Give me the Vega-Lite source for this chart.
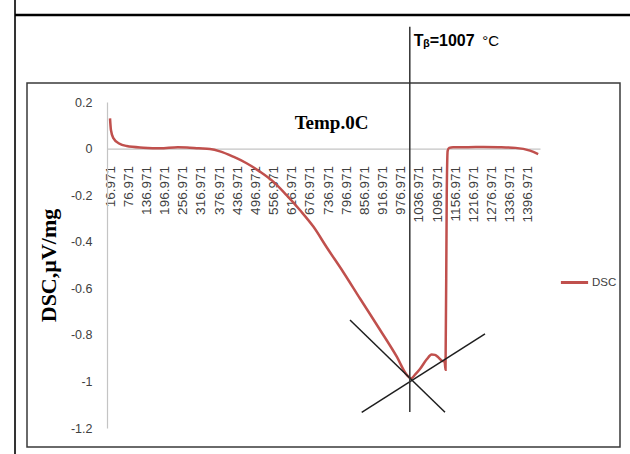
{
  "$schema": "https://vega.github.io/schema/vega-lite/v6.json",
  "width": 433,
  "height": 326,
  "autosize": "none",
  "padding": {"left": 107, "top": 102, "right": 90, "bottom": 26},
  "background": "white",
  "config": {"view": {"stroke": null}},
  "datasets": {
    "dsc": [
      {"T": 16.971, "v": 0.13}, {"T": 20, "v": 0.08}, {"T": 28, "v": 0.045}, {"T": 47, "v": 0.022},
      {"T": 72, "v": 0.011}, {"T": 127, "v": 0.004}, {"T": 182, "v": 0.001}, {"T": 241, "v": 0.006},
      {"T": 271, "v": 0.005}, {"T": 310, "v": 0.001}, {"T": 347, "v": -0.002}, {"T": 380, "v": -0.012},
      {"T": 424, "v": -0.035}, {"T": 468, "v": -0.063}, {"T": 512, "v": -0.099}, {"T": 556, "v": -0.142},
      {"T": 600, "v": -0.2}, {"T": 644, "v": -0.264}, {"T": 689, "v": -0.336}, {"T": 733, "v": -0.425},
      {"T": 787, "v": -0.53}, {"T": 843, "v": -0.645}, {"T": 909, "v": -0.779}, {"T": 964, "v": -0.894},
      {"T": 997, "v": -0.972}, {"T": 1011, "v": -0.987}, {"T": 1025, "v": -0.97}, {"T": 1040, "v": -0.948},
      {"T": 1063, "v": -0.905}, {"T": 1079, "v": -0.884}, {"T": 1090, "v": -0.886}, {"T": 1100, "v": -0.895},
      {"T": 1112, "v": -0.91}, {"T": 1122, "v": -0.915}, {"T": 1125, "v": -0.95}, {"T": 1129, "v": -0.2},
      {"T": 1132, "v": -0.01}, {"T": 1137, "v": 0.003}, {"T": 1150, "v": 0.006}, {"T": 1200, "v": 0.006},
      {"T": 1250, "v": 0.007}, {"T": 1300, "v": 0.006}, {"T": 1356, "v": 0.003}, {"T": 1404, "v": -0.009},
      {"T": 1431, "v": -0.024}
    ],
    "tangents": [
      {"line": "a", "T": 809.5, "v": -0.736}, {"line": "a", "T": 1123.3, "v": -1.1326},
      {"line": "b", "T": 848.2, "v": -1.1326}, {"line": "b", "T": 1255.4, "v": -0.796}
    ],
    "marker": [{"T": 1007, "v": 0.523, "v2": -1.131}],
    "labels": [
      {"T": 1020, "v": 0.462, "text": "Tᵦ=1007"}
    ],
    "unit": [{"T": 1246, "v": 0.462, "text": "°C"}],
    "box": [{"T": -257.2, "T2": 1701.2, "v": 0.2816, "v2": -1.2816}],
    "outerV": [{"T": -296.8, "v": 0.65, "v2": -1.32}],
    "outerH": [{"T": -296.8, "T2": 1740, "v": 0.5736}]
  },
  "encoding": {
    "x": {
      "field": "T", "type": "quantitative",
      "scale": {"domain": [7, 1437], "nice": false, "zero": false},
      "axis": {
        "values": [16.971, 76.971, 136.971, 196.971, 256.971, 316.971, 376.971, 436.971, 496.971, 556.971, 616.971, 676.971, 736.971, 796.971, 856.971, 916.971, 976.971, 1036.971, 1096.971, 1156.971, 1216.971, 1276.971, 1336.971, 1396.971],
        "format": ".3f",
        "labelAngle": -90, "labelAlign": "right", "labelBaseline": "middle",
        "labelPadding": 17, "ticks": false, "tickSize": 0,
        "labelFlush": false, "labelOverlap": false,
        "domainColor": "#c4c4c4", "domainWidth": 1.2,
        "labelFont": "Liberation Sans", "labelFontSize": 13.5, "labelColor": "#404040",
        "grid": false, "offset": -279.43,
        "title": "Temp.0C", "titleFont": "Liberation Serif", "titleFontSize": 19, "titleFontWeight": "bold",
        "titleColor": "#000000", "titleX": 224, "titleY": -26, "titleAlign": "center", "titleBaseline": "middle"
      }
    },
    "y": {
      "field": "v", "type": "quantitative",
      "scale": {"domain": [-1.2, 0.2], "nice": false, "zero": false},
      "axis": {
        "values": [0.2, 0, -0.2, -0.4, -0.6, -0.8, -1, -1.2],
        "labelExpr": "'' + datum.value",
        "ticks": false, "tickSize": 0, "labelPadding": 15,
        "domainColor": "#c4c4c4", "domainWidth": 1.2,
        "labelFont": "Liberation Sans", "labelFontSize": 12.5, "labelColor": "#404040",
        "grid": false,
        "title": "DSC,µV/mg", "titleFont": "Liberation Serif", "titleFontSize": 22, "titleFontWeight": "bold",
        "titleColor": "#000000", "titleX": -59, "titleY": 163, "titleAngle": -90, "titleAlign": "center", "titleBaseline": "middle"
      }
    }
  },
  "layer": [
    {
      "data": {"name": "box"},
      "mark": {"type": "rect", "fill": null, "stroke": "#3a3a3a", "strokeWidth": 1.5, "clip": false},
      "encoding": {"x2": {"field": "T2"}, "y2": {"field": "v2"}}
    },
    {
      "data": {"name": "outerV"},
      "mark": {"type": "rule", "color": "#333333", "strokeWidth": 2, "clip": false},
      "encoding": {"y2": {"field": "v2"}}
    },
    {
      "data": {"name": "outerH"},
      "mark": {"type": "rule", "color": "#000000", "strokeWidth": 2.5, "clip": false},
      "encoding": {"x2": {"field": "T2"}}
    },
    {
      "data": {"name": "dsc"},
      "mark": {"type": "line", "strokeWidth": 2.5, "interpolate": "monotone", "clip": false},
      "encoding": {
        "color": {
          "datum": "DSC",
          "scale": {"range": ["#C0504D"]},
          "legend": {
            "orient": "none", "legendX": 452, "legendY": 165, "title": null,
            "symbolType": "stroke", "symbolSize": 740, "symbolStrokeWidth": 3,
            "labelFont": "Liberation Sans", "labelFontSize": 11.5, "labelColor": "#404040",
            "labelOffset": 2, "padding": 0
          }
        }
      }
    },
    {
      "data": {"name": "tangents"},
      "mark": {"type": "line", "color": "#1e1e1e", "strokeWidth": 1.5, "clip": false},
      "encoding": {"detail": {"field": "line"}}
    },
    {
      "data": {"name": "marker"},
      "mark": {"type": "rule", "color": "#333333", "strokeWidth": 1.5, "clip": false},
      "encoding": {"y2": {"field": "v2"}}
    },
    {
      "data": {"name": "labels"},
      "mark": {"type": "text", "align": "left", "baseline": "middle", "font": "Liberation Sans", "fontSize": 16, "fontWeight": "bold", "color": "#000000", "clip": false},
      "encoding": {"text": {"field": "text"}}
    },
    {
      "data": {"name": "unit"},
      "mark": {"type": "text", "align": "left", "baseline": "middle", "font": "Liberation Sans", "fontSize": 15, "color": "#000000", "clip": false},
      "encoding": {"text": {"field": "text"}}
    }
  ]
}
